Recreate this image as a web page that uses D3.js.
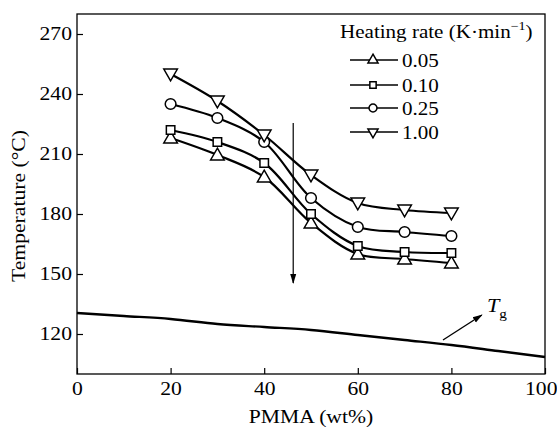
<!DOCTYPE html>
<html><head><meta charset="utf-8">
<script src="https://cdn.jsdelivr.net/npm/d3@7"></script>
<style>
body{margin:0;background:#fff;}
text{font-family:"Liberation Serif","Times New Roman",serif;fill:#000;}
</style></head>
<body><svg id="c" width="557" height="427"></svg>
<script>
const pmma = [20, 30, 40, 50, 60, 70, 80];
const rate005 = [218, 209.5, 198.5, 175.5, 160, 157.5, 155.5];
const rate010 = [222, 216, 205.5, 180, 164, 161, 160.5];
const rate025 = [235, 228, 216, 188, 173.5, 171, 169];
const rate100 = [250, 236.5, 219.5, 199.5, 185.5, 182, 180.5];
const seriesNames = ["0.05", "0.10", "0.25", "1.00"];
const tgX = [0, 10, 20, 30, 40, 50, 60, 70, 80, 90, 100];
const tgY = [130.5, 129, 127.5, 125, 123.5, 122, 119.5, 117, 114.5, 111.5, 108.5];
const xTicks = [0, 20, 40, 60, 80, 100];
const yTicks = [120, 150, 180, 210, 240, 270];

const SX = 1.17;
const svg = d3.select("#c");
const L = 77, R = 545, T = 14, B = 374;
const x = d3.scaleLinear().domain([0, 100]).range([L, R]);
const y = d3.scaleLinear().domain([100, 280]).range([B, T]);

function txt(px, py, fs, anchor) {
  return svg.append("text").attr("transform", `translate(${px},${py}) scale(${SX},1)`)
    .attr("font-size", fs).attr("text-anchor", anchor || "start");
}

// frame
svg.append("rect").attr("x", L).attr("y", T).attr("width", R - L).attr("height", B - T)
  .attr("fill", "none").attr("stroke", "#000").attr("stroke-width", 1.3);

const xAxis = svg.append("g").attr("transform", `translate(0,${B})`)
  .call(d3.axisBottom(x).tickValues(xTicks).tickSizeInner(-6).tickSizeOuter(0).tickPadding(8));
const yAxis = svg.append("g").attr("transform", `translate(${L},0)`)
  .call(d3.axisLeft(y).tickValues(yTicks).tickSizeInner(-6).tickSizeOuter(0).tickPadding(4.3));
[xAxis, yAxis].forEach(g => {
  g.select(".domain").remove();
  g.selectAll("line").attr("stroke", "#000").attr("stroke-width", 1.2);
  g.selectAll("text").attr("font-family", "Liberation Serif").attr("font-size", 18.5).attr("fill", "#000")
    .attr("transform", `scale(${SX},1)`);
});
xAxis.selectAll(".tick").filter(d => d === 100).select("text")
  .attr("text-anchor", "end").attr("x", 12 / SX);

txt((L + R) / 2, 423, 18.5, "middle").text("PMMA (wt%)");
svg.append("text").attr("transform", `translate(25,206) rotate(-90) scale(${SX},1)`).attr("text-anchor", "middle")
  .attr("font-size", 18.5).text("Temperature (°C)");

const data = [rate005, rate010, rate025, rate100];
const shapes = [
  d3.symbol().type(d3.symbolTriangle),
  d3.symbol().type(d3.symbolSquare),
  d3.symbol().type(d3.symbolCircle),
  d3.symbol().type(d3.symbolTriangle)
];
const rotations = [0, 0, 0, 180];
const sizes = [80, 72, 90, 80];
const line = d3.line().x((d, i) => x(pmma[i])).y(d => y(d)).curve(d3.curveCatmullRom.alpha(0.5));

data.forEach((s, k) => {
  svg.append("path").attr("d", line(s)).attr("fill", "none").attr("stroke", "#000").attr("stroke-width", 2.2);
});
data.forEach((s, k) => {
  svg.selectAll(null).data(s).enter().append("path")
    .attr("d", shapes[k].size(sizes[k])())
    .attr("transform", (d, i) => `translate(${x(pmma[i])},${y(d) + (k===0?1:(k===3?-1:0))}) rotate(${rotations[k]})`)
    .attr("fill", "#fff").attr("stroke", "#000").attr("stroke-width", 1.5);
});

// Tg line
const tgLine = d3.line().x((d, i) => x(tgX[i])).y(d => y(d)).curve(d3.curveMonotoneX);
svg.append("path").attr("d", tgLine(tgY)).attr("fill", "none").attr("stroke", "#000").attr("stroke-width", 2.4);

// arrowheads
const defs = svg.append("defs");
defs.append("marker").attr("id", "ah").attr("viewBox", "0 0 10 10").attr("refX", 9).attr("refY", 5)
  .attr("markerWidth", 10).attr("markerHeight", 10).attr("markerUnits", "userSpaceOnUse").attr("orient", "auto")
  .append("path").attr("d", "M0,2 L10,5 L0,8 Z").attr("fill", "#000");

// vertical arrow
svg.append("line").attr("x1", x(46.2)).attr("x2", x(46.2)).attr("y1", y(225.5)).attr("y2", y(145.5))
  .attr("stroke", "#000").attr("stroke-width", 1.2).attr("marker-end", "url(#ah)");
// Tg arrow
svg.append("line").attr("x1", x(78.2)).attr("y1", y(117)).attr("x2", x(86.5)).attr("y2", y(129.5))
  .attr("stroke", "#000").attr("stroke-width", 1.4).attr("marker-end", "url(#ah)");
const tg = txt(487, 312, 19);
tg.append("tspan").attr("font-style", "italic").text("T");
tg.append("tspan").attr("font-size", 13).attr("dy", 6).text("g");

// legend
const lg = txt(340, 38, 18);
lg.append("tspan").text("Heating rate (K·min");
lg.append("tspan").attr("font-size", 12).attr("dy", -8).text("−1");
lg.append("tspan").attr("dy", 8).text(")");
const legY = [60, 85, 108, 132];
seriesNames.forEach((n, k) => {
  svg.append("line").attr("x1", 350).attr("x2", 398).attr("y1", legY[k]).attr("y2", legY[k])
    .attr("stroke", "#000").attr("stroke-width", 1.5);
  svg.append("path").attr("d", shapes[k].size(sizes[k] * 0.55)())
    .attr("transform", `translate(373,${legY[k]}) rotate(${rotations[k]})`)
    .attr("fill", "#fff").attr("stroke", "#000").attr("stroke-width", 1.5);
  txt(402, legY[k] + 6.5, 18).text(n);
});
</script></body></html>
